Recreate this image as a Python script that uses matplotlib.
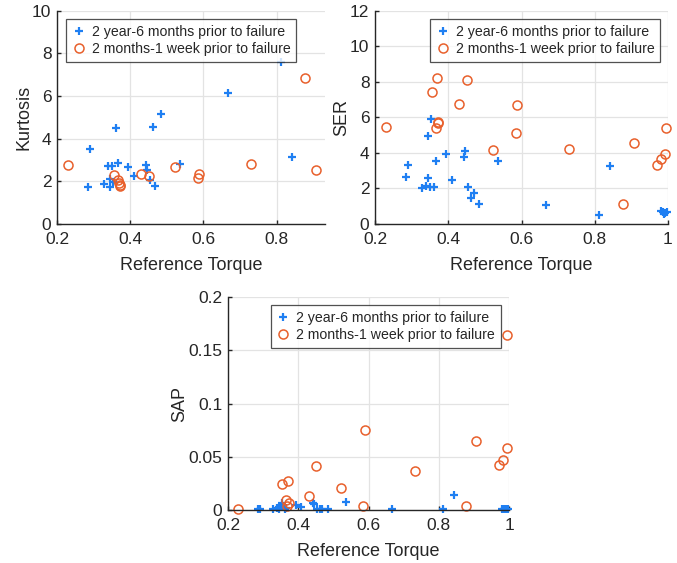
import numpy as np
import matplotlib
matplotlib.use("Agg")
import matplotlib.pyplot as plt
from matplotlib.ticker import FuncFormatter

# blue: 2 year-6 months prior to failure
early_torque = [0.284, 0.291, 0.329, 0.340, 0.349, 0.346, 0.344, 0.354, 0.361, 0.366,
                0.395, 0.409, 0.443, 0.445, 0.453, 0.463, 0.469, 0.484, 0.537, 0.668,
                0.812, 0.842, 0.980, 0.985, 0.989, 0.993, 0.998]
early_kurtosis = [1.72, 3.50, 1.88, 2.73, 2.70, 2.11, 1.75, 1.97, 4.48, 2.86,
                  2.69, 2.25, 2.78, 2.53, 2.06, 4.56, 1.80, 5.14, 2.81, 6.13,
                  7.60, 3.16, np.nan, np.nan, np.nan, np.nan, np.nan]
early_ser = [2.64, 3.34, 2.00, 2.14, 2.10, 2.59, 4.97, 5.90, 2.10, 3.56,
             3.94, 2.46, 3.75, 4.12, 2.10, 1.46, 1.76, 1.13, 3.54, 1.05,
             0.53, 3.28, 0.75, 0.65, 0.55, 0.62, 0.70]
early_sap = [0.0010, 0.0005, 0.0008, 0.0020, 0.0040, 0.0030, 0.0010, 0.0070, 0.0005, 0.0020,
             0.0045, 0.0030, 0.0068, 0.0060, 0.0010, 0.0010, 0.0008, 0.0008, 0.0078, 0.0006,
             0.0005, 0.0138, 0.0008, 0.0008, 0.0008, 0.0008, 0.0008]

# orange: 2 months-1 week prior to failure
late_torque = [0.229, 0.355, 0.366, 0.368, 0.371, 0.373, 0.430, 0.450, 0.521, 0.585,
               0.589, 0.731, 0.878, 0.907, 0.971, 0.982, 0.993, 0.995]
late_kurtosis = [2.78, 2.30, 2.06, 1.94, 1.83, 1.78, 2.34, 2.27, 2.66, 2.17,
                 2.33, 2.83, 6.84, 2.53, np.nan, np.nan, np.nan, np.nan]
late_ser = [5.47, 7.44, 5.40, 8.21, 5.76, 5.70, 6.77, 8.10, 4.18, 5.12,
            6.68, 4.24, 1.11, 4.58, 3.30, 3.66, 3.94, 5.40]
late_sap = [0.0006, 0.0240, 0.0094, 0.0037, 0.0270, 0.0066, 0.0130, 0.0410, 0.0206, 0.0040,
            0.0747, 0.0366, 0.0037, 0.0650, 0.0425, 0.0469, 0.0580, 0.1640]

labels = ["2 year-6 months prior to failure", "2 months-1 week prior to failure"]
BLUE = "#1f7ff2"
ORANGE = "#e8602c"
GRAY = "#262626"

plt.rcParams['font.family'] = ['Liberation Sans', 'DejaVu Sans']

W, H = 677, 563
fig = plt.figure(figsize=(W / 100, H / 100), dpi=100)


def px_axes(left, top, right, bottom):
    return fig.add_axes([left / W, 1 - bottom / H, (right - left) / W, (bottom - top) / H])


def style(ax, ylabel, xlim, ylim, yticks, anchor, loc):
    ax.set_xlim(*xlim)
    ax.set_ylim(*ylim)
    ax.set_xticks([t for t in [0.2, 0.4, 0.6, 0.8, 1.0] if t <= xlim[1] + 1e-9])
    ax.set_yticks(yticks)
    fmt = FuncFormatter(lambda v, p: "%g" % round(v, 4))
    ax.xaxis.set_major_formatter(fmt)
    ax.yaxis.set_major_formatter(fmt)
    ax.grid(True, color="#e3e3e3", linewidth=0.9)
    ax.set_axisbelow(True)
    for s in ["top", "right"]:
        ax.spines[s].set_visible(False)
    for s in ["left", "bottom"]:
        ax.spines[s].set_color(GRAY)
        ax.spines[s].set_linewidth(1.0)
    ax.tick_params(direction="in", length=3, width=1.0, colors=GRAY, labelsize=12.5)
    ax.tick_params(axis="x", pad=6)
    ax.tick_params(axis="y", pad=4)
    ax.set_xlabel("Reference Torque", fontsize=13, color=GRAY, labelpad=7)
    ax.set_ylabel(ylabel, fontsize=13, color=GRAY, labelpad=0)
    leg = ax.legend(labels, loc=loc, bbox_to_anchor=anchor, borderaxespad=0,
                    fontsize=10.2, frameon=True, fancybox=False, labelspacing=0.25,
                    borderpad=0.4, handletextpad=0.4, handlelength=1.0)
    leg.get_frame().set_edgecolor(GRAY)
    leg.get_frame().set_linewidth(0.9)
    for t in leg.get_texts():
        t.set_color(GRAY)


def scatter(ax, ye, yl):
    ax.plot(early_torque, ye, linestyle="none", marker="+", color=BLUE,
            markersize=6, markeredgewidth=1.6, clip_on=False)
    ax.plot(late_torque, yl, linestyle="none", marker="o", markerfacecolor="none",
            markeredgecolor=ORANGE, markersize=6.5, markeredgewidth=1.1, clip_on=False)


ax1 = px_axes(57, 10.7, 325, 224)
scatter(ax1, early_kurtosis, late_kurtosis)
style(ax1, "Kurtosis", (0.2, 0.932), (0, 10), [0, 2, 4, 6, 8, 10], (0.034, 0.961), "upper left")

ax2 = px_axes(375, 10.7, 668, 224)
scatter(ax2, early_ser, late_ser)
style(ax2, "SER", (0.2, 1.0), (0, 12), [0, 2, 4, 6, 8, 10, 12], (0.973, 0.961), "upper right")

ax3 = px_axes(228, 297, 509, 510)
scatter(ax3, early_sap, late_sap)
style(ax3, "SAP", (0.2, 1.0), (0, 0.2), [0, 0.05, 0.1, 0.15, 0.2], (0.970, 0.962), "upper right")

fig.savefig("out.png", dpi=100)
